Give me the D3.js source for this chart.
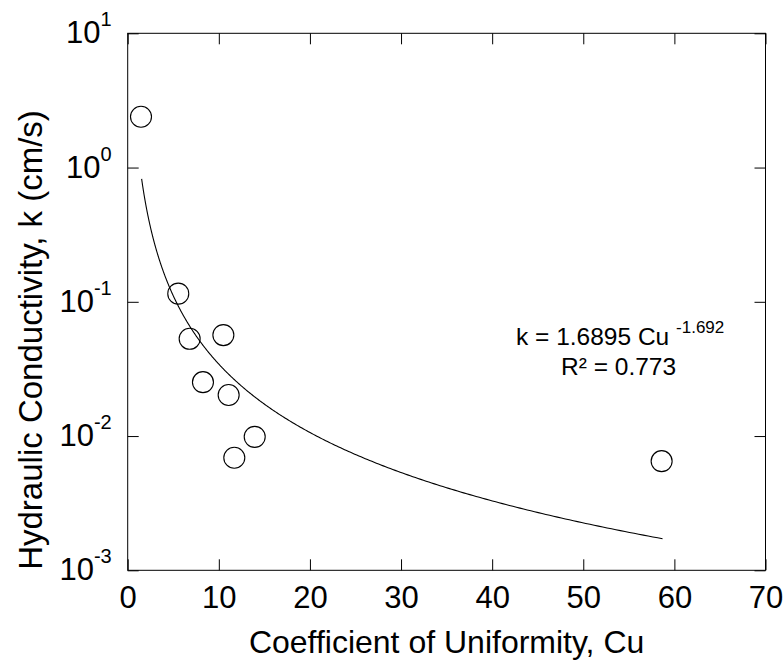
<!DOCTYPE html>
<html>
<head>
<meta charset="utf-8">
<script src="https://cdn.jsdelivr.net/npm/d3@7"></script>
<style>
  html, body { margin: 0; padding: 0; background: #fff; }
  svg { display: block; font-family: Arial, "Liberation Sans", Helvetica, sans-serif; }
</style>
</head>
<body>
<svg id="chart" width="784" height="665"></svg>
<script>
// Measured samples: coefficient of uniformity vs hydraulic conductivity (cm/s)
const cuValues = [1.46, 5.55, 6.8, 10.5, 8.26, 11.08, 13.94, 11.7, 58.6];
const kValues  = [2.39, 0.115, 0.053, 0.0565, 0.0252, 0.0202, 0.00986, 0.00689, 0.0065];

// Power-law fit k = a * Cu^b
const fitA = 1.6895;
const fitB = -1.692;
const fitRange = [1.53, 58.7];
const fitR2 = "0.773";

const xTicks = [0, 10, 20, 30, 40, 50, 60, 70];
const yExponents = [-3, -2, -1, 0, 1];

const plot = { left: 127.7, right: 765.5, top: 33.3, bottom: 570.3 };
const tickLen = 11;

const svg = d3.select("#chart");

const x = d3.scaleLinear().domain([0, 70]).range([plot.left, plot.right]);
const y = d3.scaleLog().domain([1e-3, 1e1]).range([plot.bottom, plot.top]);

// Frame
svg.append("rect")
  .attr("x", plot.left).attr("y", plot.top)
  .attr("width", plot.right - plot.left).attr("height", plot.bottom - plot.top)
  .attr("fill", "none").attr("stroke", "#000").attr("stroke-width", 1);

// Bottom axis: inward ticks + labels
const xBottom = d3.axisBottom(x).tickValues(xTicks).tickSizeInner(-tickLen).tickSizeOuter(0)
  .tickPadding(tickLen + 16).tickFormat(d3.format("d"));
const gxb = svg.append("g").attr("transform", `translate(0,${plot.bottom})`).call(xBottom);
gxb.select(".domain").remove();
gxb.selectAll(".tick line").attr("stroke", "#000");
gxb.selectAll(".tick text")
  .attr("font-size", 31).attr("fill", "#000")
  .attr("font-family", "Arial, 'Liberation Sans', sans-serif")
  .attr("dy", null).attr("y", 38);

// Top axis: mirrored inward ticks only
const xTop = d3.axisTop(x).tickValues(xTicks).tickSizeInner(-tickLen).tickSizeOuter(0).tickFormat("");
const gxt = svg.append("g").attr("transform", `translate(0,${plot.top})`).call(xTop);
gxt.select(".domain").remove();
gxt.selectAll(".tick line").attr("stroke", "#000");

// Left axis: decade ticks
const yLeft = d3.axisLeft(y).tickValues(yExponents.map(e => Math.pow(10, e)))
  .tickSizeInner(-tickLen).tickSizeOuter(0).tickFormat("");
const gyl = svg.append("g").attr("transform", `translate(${plot.left},0)`).call(yLeft);
gyl.select(".domain").remove();
gyl.selectAll(".tick line").attr("stroke", "#000");

// 10^n labels
const yLab = svg.append("g");
yExponents.forEach(e => {
  const t = yLab.append("text")
    .attr("x", plot.left - 16)
    .attr("y", y(Math.pow(10, e)) + 10)
    .attr("text-anchor", "end")
    .attr("font-size", 31)
    .attr("fill", "#000");
  t.append("tspan").text("10");
  t.append("tspan").attr("dy", -17).attr("font-size", 20).text(String(e));
});

// Right axis: mirrored decade ticks
const yRight = d3.axisRight(y).tickValues(yExponents.map(e => Math.pow(10, e)))
  .tickSizeInner(-tickLen).tickSizeOuter(0).tickFormat("");
const gyr = svg.append("g").attr("transform", `translate(${plot.right},0)`).call(yRight);
gyr.select(".domain").remove();
gyr.selectAll(".tick line").attr("stroke", "#000");

// Axis titles
svg.append("text")
  .attr("x", (plot.left + plot.right) / 2)
  .attr("y", 653)
  .attr("text-anchor", "middle")
  .attr("font-size", 32)
  .attr("fill", "#000")
  .text("Coefficient of Uniformity, Cu");

svg.append("text")
  .attr("transform", `translate(42,340) rotate(-90)`)
  .attr("text-anchor", "middle")
  .attr("font-size", 33)
  .attr("fill", "#000")
  .text("Hydraulic Conductivity, k (cm/s)");

// Fitted power-law curve
const curveCu = d3.range(0, 401).map(i => fitRange[0] * Math.pow(fitRange[1] / fitRange[0], i / 400));
const line = d3.line()
  .x(d => x(d))
  .y(d => y(fitA * Math.pow(d, fitB)));
svg.append("path")
  .datum(curveCu)
  .attr("d", line)
  .attr("fill", "none")
  .attr("stroke", "#000")
  .attr("stroke-width", 1.1);

// Data points: open circles
svg.append("g").selectAll("circle")
  .data(cuValues.map((c, i) => ({ cu: c, k: kValues[i] })))
  .join("circle")
  .attr("cx", d => x(d.cu))
  .attr("cy", d => y(d.k))
  .attr("r", 10.5)
  .attr("fill", "none")
  .attr("stroke", "#000")
  .attr("stroke-width", 1.1);

// Fit equation annotation
const eq = svg.append("text")
  .attr("x", 516).attr("y", 345)
  .attr("font-size", 24.5)
  .attr("fill", "#000");
eq.append("tspan").text(`k = ${fitA} Cu `);
eq.append("tspan").attr("dy", -12).attr("font-size", 17).text(String(fitB));

svg.append("text")
  .attr("x", 561).attr("y", 375)
  .attr("font-size", 24.5)
  .attr("fill", "#000")
  .text(`R² = ${fitR2}`);
</script>
</body>
</html>
